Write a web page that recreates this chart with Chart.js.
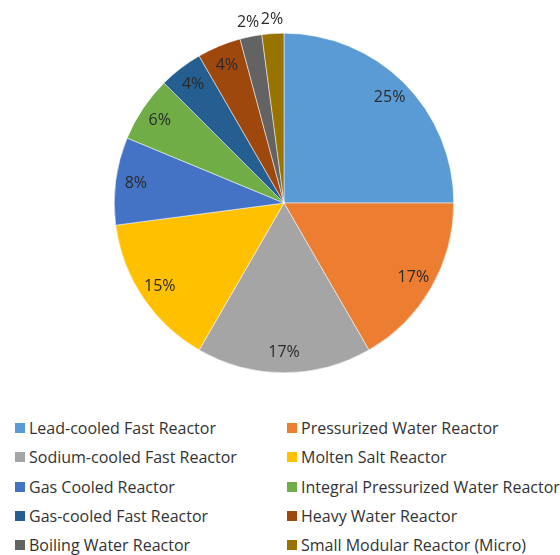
<!DOCTYPE html>
<html>
<head>
<meta charset="utf-8">
<script src="https://cdn.jsdelivr.net/npm/chart.js@4/dist/chart.umd.min.js"></script>
<style>
  html, body { margin: 0; padding: 0; background: #fff; }
  #wrap { position: relative; width: 560px; height: 555px; overflow: hidden; }
  #chart-box { position: absolute; left: 0; top: 0; width: 560px; height: 406px; }
  #legend {
    position: absolute; left: 15px; top: 417px; width: 545px;
    display: grid; grid-template-columns: 272px 273px; grid-auto-rows: 29.3px;
    font-family: "Open Sans", sans-serif; font-size: 16px; color: #333;
  }
  .item { display: flex; align-items: center; white-space: nowrap; height: 22px; }
  .swatch { width: 10px; height: 10px; margin-right: 4px; flex: none; }
</style>
</head>
<body>
<div id="wrap">
  <div id="chart-box"><canvas id="pie"></canvas></div>
  <div id="legend"></div>
</div>
<script>
// reactor types and counts (percent labels are worked out from these)
const reactorTypes = [
  'Lead-cooled Fast Reactor',
  'Pressurized Water Reactor',
  'Sodium-cooled Fast Reactor',
  'Molten Salt Reactor',
  'Gas Cooled Reactor',
  'Integral Pressurized Water Reactor',
  'Gas-cooled Fast Reactor',
  'Heavy Water Reactor',
  'Boiling Water Reactor',
  'Small Modular Reactor (Micro)'
];
const reactorCounts = [12, 8, 8, 7, 4, 3, 2, 2, 1, 1];
const sliceColors = [
  '#5B9BD5', '#ED7D31', '#A5A5A5', '#FFC000', '#4472C4',
  '#70AD47', '#255E91', '#9E480E', '#636363', '#997300'
];

const total = reactorCounts.reduce((a, b) => a + b, 0);

// draws "25%" style labels; tiny slices go just outside the rim
const pctLabels = {
  id: 'pctLabels',
  afterDatasetsDraw(chart) {
    const ctx = chart.ctx;
    const meta = chart.getDatasetMeta(0);
    ctx.save();
    ctx.font = '16px "Open Sans", sans-serif';
    ctx.fillStyle = '#2a2a2a';
    ctx.textAlign = 'center';
    ctx.textBaseline = 'middle';
    meta.data.forEach((arc, i) => {
      const share = reactorCounts[i] / total;
      const mid = (arc.startAngle + arc.endAngle) / 2;
      const r = share < 0.03 ? arc.outerRadius + 14 : arc.outerRadius * 0.88;
      const x = arc.x + Math.cos(mid) * r;
      const y = arc.y + Math.sin(mid) * r;
      ctx.fillText(Math.round(share * 100) + '%', x, y);
    });
    ctx.restore();
  }
};

new Chart(document.getElementById('pie'), {
  type: 'pie',
  data: {
    labels: reactorTypes,
    datasets: [{
      data: reactorCounts,
      backgroundColor: sliceColors,
      borderColor: '#ffffff',
      borderWidth: 0.5
    }]
  },
  options: {
    responsive: true,
    maintainAspectRatio: false,
    animation: false,
    layout: { padding: { left: 8, right: 0, top: 33, bottom: 33 } },
    plugins: {
      legend: { display: false },
      tooltip: { enabled: false }
    }
  },
  plugins: [pctLabels]
});

// legend in two columns, row by row like the original
const legendEl = document.getElementById('legend');
reactorTypes.forEach((name, i) => {
  const item = document.createElement('div');
  item.className = 'item';
  item.innerHTML = `<span class="swatch" style="background:${sliceColors[i]}"></span><span>${name}</span>`;
  legendEl.appendChild(item);
});
</script>
</body>
</html>
